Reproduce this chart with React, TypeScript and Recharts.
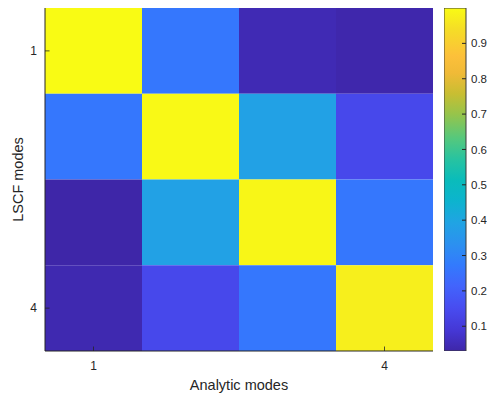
import React from "react";
import { BarChart, Bar, XAxis, YAxis, Cell } from "recharts";

// MAC values: one array per LSCF mode (row), entries per analytic mode (column)
const analyticModes = ["1", "2", "3", "4"];
const lscfModes = ["1", "2", "3", "4"];
const macLscf1 = [1.0, 0.265, 0.045, 0.035];
const macLscf2 = [0.265, 0.995, 0.385, 0.14];
const macLscf3 = [0.03, 0.385, 0.99, 0.265];
const macLscf4 = [0.04, 0.14, 0.265, 0.975];
const labelledModes = ["1", "4"];
const colorbarTicks = [0.1, 0.2, 0.3, 0.4, 0.5, 0.6, 0.7, 0.8, 0.9];

const macRows = [macLscf1, macLscf2, macLscf3, macLscf4];

// parula-like colormap, [t, r, g, b]
const PARULA: number[][] = [
  [0.0, 62, 38, 168],
  [0.06, 69, 55, 213],
  [0.125, 72, 76, 240],
  [0.19, 66, 100, 252],
  [0.25, 51, 122, 253],
  [0.31, 44, 144, 240],
  [0.375, 32, 164, 227],
  [0.44, 12, 180, 205],
  [0.5, 10, 188, 186],
  [0.56, 40, 195, 160],
  [0.62, 85, 200, 125],
  [0.69, 150, 196, 75],
  [0.75, 200, 190, 50],
  [0.81, 240, 186, 55],
  [0.86, 252, 192, 58],
  [0.94, 245, 222, 38],
  [1.0, 249, 251, 20],
];

const toHex = (n: number) => Math.round(n).toString(16).padStart(2, "0");

function parula(t: number) {
  const c = Math.max(0, Math.min(1, t));
  for (let i = 1; i < PARULA.length; i++) {
    const a = PARULA[i - 1];
    const b = PARULA[i];
    if (c <= b[0]) {
      const f = (c - a[0]) / (b[0] - a[0]);
      return "#" + [1, 2, 3].map((k) => toHex(a[k] + (b[k] - a[k]) * f)).join("");
    }
  }
  const last = PARULA[PARULA.length - 1];
  return "#" + [1, 2, 3].map((k) => toHex(last[k])).join("");
}

const allValues = macRows.flat();
const cMin = Math.min(...allValues);
const cMax = Math.max(...allValues);
const colorOf = (v: number) => parula((v - cMin) / (cMax - cMin));

// one stacked segment per LSCF mode in every analytic-mode column
const gridData = analyticModes.map((mode) => {
  const row: Record<string, string | number> = { mode };
  lscfModes.forEach((_, i) => (row[`lscf${i}`] = 1));
  return row;
});

const colorbarData = [{ name: "scale", range: [cMin, cMax] }];

const INK = "#262626";
const FONT = "'Liberation Sans', Arial, Helvetica, sans-serif";
const TICK_LEN = 4.5;
const TICK_FONT = 12;
const X_GAP = 10;
const Y_GAP = 8;
const CB_GAP = 5;

const BottomTick = ({ x, y, payload }: any) => {
  if (!labelledModes.includes(String(payload.value))) return <g />;
  return (
    <g>
      <line x1={x} x2={x} y1={y - X_GAP} y2={y - X_GAP - TICK_LEN} stroke={INK} strokeOpacity={0.8} />
      <text x={x} y={y} dy="0.71em" textAnchor="middle" fontSize={TICK_FONT} fill={INK} fontFamily={FONT}>
        {payload.value}
      </text>
    </g>
  );
};

const TopTick = ({ x, y, payload }: any) => {
  if (!labelledModes.includes(String(payload.value))) return <g />;
  return <line x1={x} x2={x} y1={y} y2={y + TICK_LEN} stroke={INK} strokeOpacity={0.8} />;
};

const LeftTick = ({ x, y, payload }: any) => {
  const label = lscfModes[Math.floor(payload.value)];
  return (
    <g>
      <line x1={x + Y_GAP} x2={x + Y_GAP + TICK_LEN} y1={y} y2={y} stroke={INK} strokeOpacity={0.8} />
      <text x={x} y={y} dy="0.355em" textAnchor="end" fontSize={TICK_FONT} fill={INK} fontFamily={FONT}>
        {label}
      </text>
    </g>
  );
};

const RightTick = ({ x, y }: any) => (
  <line x1={x} x2={x - TICK_LEN} y1={y} y2={y} stroke={INK} strokeOpacity={0.8} />
);

const ColorbarTick = ({ x, y, payload }: any) => (
  <g>
    <line x1={x - CB_GAP} x2={x - CB_GAP - 4} y1={y} y2={y} stroke={INK} />
    <text x={x} y={y} dy="0.355em" textAnchor="start" fontSize={11.5} fill={INK} fontFamily={FONT}>
      {String(payload.value)}
    </text>
  </g>
);

const rowTicks = labelledModes.map((m) => lscfModes.indexOf(m) + 0.5);

export default function App() {
  return (
    <div
      style={{
        position: "absolute",
        left: 0,
        top: 0,
        width: 487,
        height: 396,
        background: "#ffffff",
        fontFamily: FONT,
      }}
    >
      <div style={{ position: "absolute", left: 0, top: 0 }}>
        <BarChart
          width={487}
          height={396}
          data={gridData}
          margin={{ top: 8, right: 54, bottom: 0, left: 0 }}
          barCategoryGap={0}
          barGap={0}
        >
          {lscfModes.map((_, i) => (
            <Bar key={i} dataKey={`lscf${i}`} stackId="mac" isAnimationActive={false}>
              {analyticModes.map((_, j) => (
                <Cell key={j} fill={colorOf(macRows[i][j])} />
              ))}
            </Bar>
          ))}
          <XAxis
            dataKey="mode"
            height={45}
            interval={0}
            tickSize={0}
            tickMargin={X_GAP}
            tick={<BottomTick />}
            tickLine={false}
            axisLine={{ stroke: INK }}
            label={{
              value: "Analytic modes",
              position: "insideBottom",
              offset: 6.5,
              fill: INK,
              fontSize: 14.5,
              fontFamily: FONT,
            }}
          />
          <XAxis
            xAxisId="top"
            orientation="top"
            dataKey="mode"
            height={0}
            interval={0}
            tickSize={0}
            tickMargin={0}
            tick={<TopTick />}
            tickLine={false}
            axisLine={{ stroke: INK }}
          />
          <YAxis
            type="number"
            domain={[0, lscfModes.length]}
            reversed
            allowDataOverflow
            ticks={rowTicks}
            interval={0}
            width={45}
            tickSize={0}
            tickMargin={Y_GAP}
            tick={<LeftTick />}
            tickLine={false}
            axisLine={{ stroke: INK }}
            label={{
              value: "LSCF modes",
              angle: -90,
              position: "insideLeft",
              offset: 18,
              fill: INK,
              fontSize: 14.5,
              fontFamily: FONT,
              style: { textAnchor: "middle" },
            }}
          />
          <YAxis
            yAxisId="right"
            orientation="right"
            type="number"
            domain={[0, lscfModes.length]}
            reversed
            allowDataOverflow
            ticks={rowTicks}
            interval={0}
            width={0}
            tickSize={0}
            tickMargin={0}
            tick={<RightTick />}
            tickLine={false}
            axisLine={{ stroke: INK }}
          />
        </BarChart>
      </div>
      <div style={{ position: "absolute", left: 444, top: 0 }}>
        <BarChart
          width={43}
          height={396}
          data={colorbarData}
          margin={{ top: 8, right: 0, bottom: 45, left: 0 }}
          barCategoryGap={0}
        >
          <defs>
            <linearGradient id="parulaScale" x1="0" y1="1" x2="0" y2="0">
              {PARULA.map((s, i) => (
                <stop key={i} offset={s[0]} stopColor={`rgb(${s[1]},${s[2]},${s[3]})`} />
              ))}
            </linearGradient>
          </defs>
          <XAxis dataKey="name" hide />
          <YAxis
            orientation="right"
            type="number"
            domain={[cMin, cMax]}
            allowDataOverflow
            ticks={colorbarTicks}
            interval={0}
            width={21}
            tickSize={0}
            tickMargin={CB_GAP}
            tick={<ColorbarTick />}
            tickLine={false}
            axisLine={false}
          />
          <Bar
            dataKey="range"
            fill="url(#parulaScale)"
            stroke="#3a3a3a"
            strokeWidth={1}
            isAnimationActive={false}
          />
        </BarChart>
      </div>
    </div>
  );
}
